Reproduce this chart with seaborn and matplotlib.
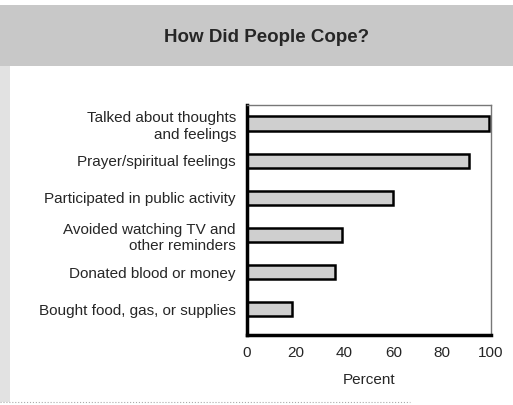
import seaborn as sns
import matplotlib.pyplot as plt
from matplotlib.patches import Rectangle
from matplotlib.lines import Line2D
import pandas as pd

# 対処法のカテゴリと割合
categories = ["Talked about thoughts\nand feelings",
              "Prayer/spiritual feelings",
              "Participated in public activity",
              "Avoided watching TV and\nother reminders",
              "Donated blood or money",
              "Bought food, gas, or supplies"]
percent = [99, 91, 60, 39, 36, 18.5]
xticks = [0, 20, 40, 60, 80, 100]

df = pd.DataFrame({"cat": categories, "pct": percent})

sns.set_style("white")
plt.rcParams['font.family'] = ['Liberation Sans', 'DejaVu Sans']

fig = plt.figure(figsize=(5.13, 4.05), dpi=100, facecolor="white")
ax = fig.add_axes([247/513, 1-335/405, (491-247)/513, (335-105)/405])

# タイトル帯と左の帯
fig.patches.append(Rectangle((0, 1-66/405), 1, 61/405, transform=fig.transFigure,
                             facecolor="#c8c8c8", edgecolor="none", zorder=0))
fig.patches.append(Rectangle((0, 1-402/405), 10/513, 336/405, transform=fig.transFigure,
                             facecolor="#e2e2e2", edgecolor="none", zorder=0))
fig.lines.append(Line2D([0, 0.8], [1-402/405, 1-402/405], transform=fig.transFigure,
                        color="#aaaaaa", linewidth=0.8, linestyle=":"))
fig.text(267/513, 1-38/405, "How Did People Cope?", ha="center", va="center",
         fontsize=13.5, fontweight="bold")

sns.barplot(data=df, x="pct", y="cat", orient="h", color="#cfcfcf",
            edgecolor="black", linewidth=1.8, width=0.4, saturation=1, ax=ax)

ax.set_xlim(0, 100)
ax.set_ylim(5.7, -0.51)
ax.set_xticks(xticks)
ax.set_xlabel("Percent", fontsize=11, labelpad=9)
ax.set_ylabel("")
ax.tick_params(axis="x", direction="in", length=4, width=0.8, labelsize=11, pad=8)
ax.tick_params(axis="y", length=0, labelsize=11, pad=8)
for lab in ax.get_yticklabels():
    lab.set_horizontalalignment("right")
    lab.set_multialignment("right")

for s in ["left", "bottom"]:
    ax.spines[s].set_linewidth(2.5)
    ax.spines[s].set_color("black")
for s in ["top", "right"]:
    ax.spines[s].set_linewidth(1.0)
    ax.spines[s].set_color("#777777")

fig.savefig("out.png", dpi=100)
